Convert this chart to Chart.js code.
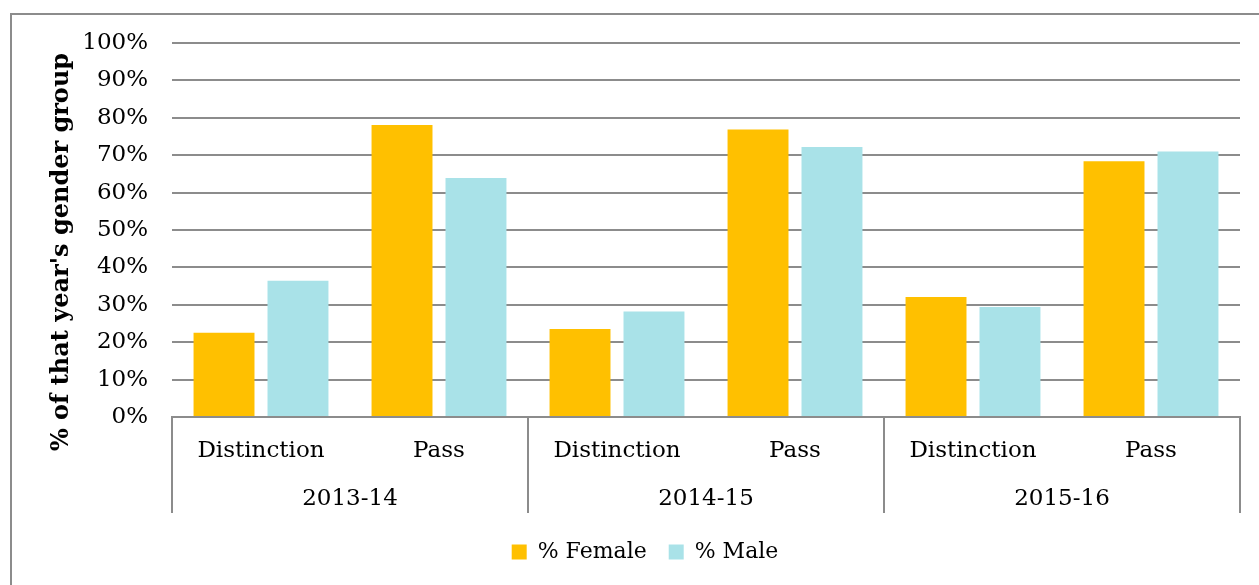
<!DOCTYPE html>
<html>
<head>
<meta charset="utf-8">
<script src="https://cdn.jsdelivr.net/npm/chart.js@4/dist/chart.umd.min.js"></script>
<style>
  html, body { margin: 0; padding: 0; background: #fff; }
  #wrap { position: relative; width: 1259px; height: 585px; }
</style>
</head>
<body>
<div id="wrap"><canvas id="myChart"></canvas></div>
<script>
'use strict';
// data
let years = ['2013-14', '2014-15', '2015-16'];
let results = ['Distinction', 'Pass'];
let female = [22.5, 78.1, 23.5, 76.9, 32.1, 68.4];
let male = [36.4, 63.9, 28.2, 72.2, 29.4, 71.0];
let yTicks = [0, 10, 20, 30, 40, 50, 60, 70, 80, 90, 100];
let yTitle = "% of that year's gender group";

let serif = "'DejaVu Serif', serif";
let lineGrey = '#8c8c8c';

// one label per bar group: Distinction, Pass, Distinction, Pass ...
let labels = [];
for (let i = 0; i < years.length; i++) {
    for (let j = 0; j < results.length; j++) {
        labels.push(results[j]);
    }
}

// frame, year row, dividers and the y title
const extras = {
    id: 'extras',
    beforeDraw(chart) {
        const ctx = chart.ctx;
        ctx.save();
        ctx.strokeStyle = lineGrey;
        ctx.lineWidth = 2;
        ctx.beginPath();
        ctx.moveTo(11, 585);
        ctx.lineTo(11, 14);
        ctx.lineTo(1259, 14);
        ctx.stroke();
        ctx.restore();
    },
    afterDraw(chart) {
        const ctx = chart.ctx;
        const x = chart.scales.x;
        const top = chart.chartArea.bottom;
        const n = results.length;
        ctx.save();
        ctx.strokeStyle = lineGrey;
        ctx.lineWidth = 2;
        for (let i = 0; i <= years.length; i++) {
            let px;
            if (i === 0) px = x.left;
            else if (i === years.length) px = x.right;
            else px = (x.getPixelForValue(i * n - 1) + x.getPixelForValue(i * n)) / 2;
            ctx.beginPath();
            ctx.moveTo(px, top);
            ctx.lineTo(px, top + 96);
            ctx.stroke();
        }
        ctx.fillStyle = '#000';
        ctx.font = '23px ' + serif;
        ctx.textAlign = 'center';
        ctx.textBaseline = 'middle';
        for (let i = 0; i < years.length; i++) {
            let a = x.getPixelForValue(i * n);
            let b = x.getPixelForValue(i * n + n - 1);
            ctx.fillText(years[i], (a + b) / 2, top + 82);
        }
        // y title
        ctx.font = 'bold 24px ' + serif;
        ctx.translate(62, 252);
        ctx.rotate(-Math.PI / 2);
        ctx.fillText(yTitle, 0, 0);
        ctx.restore();
    }
};

const ctx = document.getElementById('myChart').getContext('2d');
let myChart = new Chart(ctx, {
    type: 'bar',
    data: {
        labels: labels,
        datasets: [{
            label: '% Female',
            data: female,
            backgroundColor: '#FFC000',
            borderWidth: 0
        }, {
            label: '% Male',
            data: male,
            backgroundColor: '#A9E2E8',
            borderWidth: 0
        }]
    },
    options: {
        responsive: true,
        maintainAspectRatio: false,
        animation: false,
        categoryPercentage: 0.831,
        barPercentage: 0.824,
        layout: {
            padding: { left: 50, right: 19, top: 43, bottom: 12 }
        },
        plugins: {
            tooltip: { enabled: false },
            legend: {
                position: 'bottom',
                labels: {
                    boxWidth: 15,
                    boxHeight: 15,
                    color: '#000',
                    padding: 22,
                    font: { family: serif, size: 22 }
                }
            }
        },
        scales: {
            x: {
                grid: { display: false },
                border: { display: true, color: lineGrey, width: 2 },
                ticks: {
                    color: '#000',
                    padding: 12,
                    maxRotation: 0,
                    autoSkip: false,
                    font: { family: serif, size: 23 }
                },
                afterFit(s) { s.height = 102; }
            },
            y: {
                min: 0,
                max: 100,
                afterBuildTicks(s) { s.ticks = yTicks.map(v => ({ value: v })); },
                grid: { color: lineGrey, lineWidth: 2, drawTicks: false },
                border: { display: false },
                ticks: {
                    color: '#000',
                    padding: 24,
                    font: { family: serif, size: 23 },
                    callback: v => v + '%'
                },
                afterFit(s) { s.width = 122; }
            }
        }
    },
    plugins: [extras]
});
</script>
</body>
</html>
